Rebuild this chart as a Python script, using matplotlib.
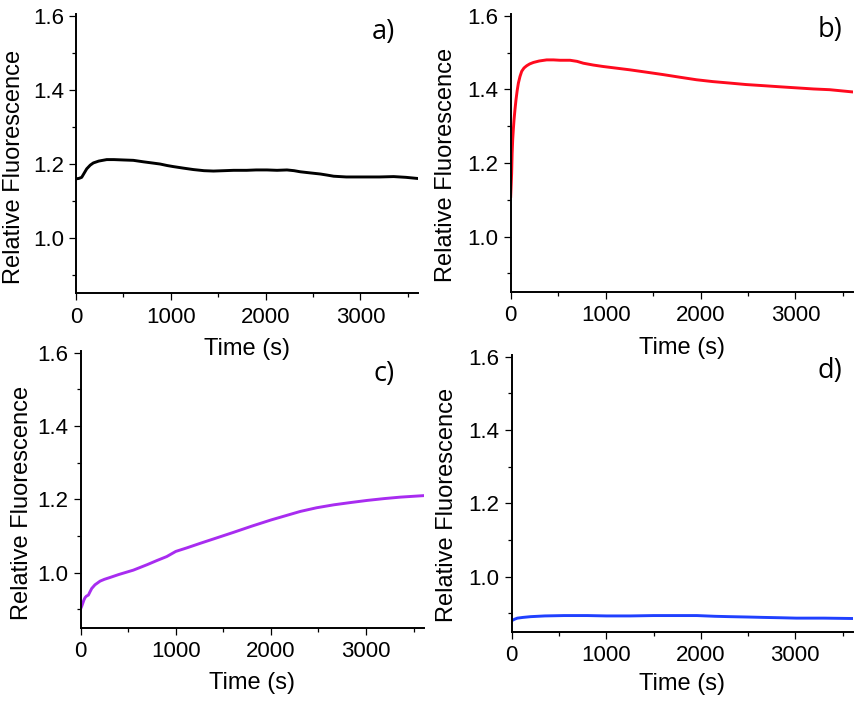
import matplotlib
matplotlib.use("Agg")
import matplotlib.pyplot as plt
from matplotlib.ticker import MultipleLocator

# ---------------- data ----------------
time_a = [0, 30, 60, 90, 113, 150, 183, 240, 324, 400, 500, 605, 711, 800, 887, 960,
          1028, 1130, 1239, 1350, 1450, 1560, 1662, 1800, 1900, 2014, 2120, 2225,
          2300, 2366, 2470, 2577, 2650, 2718, 2850, 2950, 3070, 3200, 3350, 3480, 3600]
fluo_a = [1.159, 1.160, 1.163, 1.176, 1.186, 1.196, 1.202, 1.207, 1.211, 1.211, 1.210,
          1.209, 1.205, 1.202, 1.199, 1.195, 1.192, 1.188, 1.184, 1.181, 1.180, 1.181,
          1.182, 1.182, 1.183, 1.183, 1.182, 1.183, 1.181, 1.178, 1.175, 1.172, 1.169,
          1.166, 1.164, 1.164, 1.164, 1.164, 1.165, 1.163, 1.160]

time_b = [0, 5, 10, 15, 21, 28, 35, 45, 56, 68, 81, 98, 116, 140, 168, 200, 239, 300,
          379, 450, 520, 625, 700, 765, 870, 975, 1100, 1256, 1420, 1607, 1780, 1958,
          2130, 2309, 2480, 2660, 2830, 3011, 3190, 3361, 3480, 3600]
fluo_b = [1.109, 1.140, 1.172, 1.225, 1.263, 1.292, 1.317, 1.345, 1.372, 1.396, 1.417,
          1.435, 1.449, 1.458, 1.464, 1.469, 1.473, 1.477, 1.480, 1.480, 1.479, 1.479,
          1.476, 1.471, 1.466, 1.462, 1.458, 1.453, 1.447, 1.440, 1.433, 1.426, 1.421,
          1.417, 1.413, 1.410, 1.407, 1.404, 1.401, 1.399, 1.396, 1.393]

time_c = [0, 10, 21, 33, 46, 60, 81, 98, 116, 150, 204, 250, 309, 400, 554, 700, 800,
          905, 1000, 1120, 1256, 1420, 1607, 1800, 2004, 2150, 2309, 2480, 2660, 2830,
          3011, 3190, 3361, 3480, 3600]
fluo_c = [0.902, 0.908, 0.916, 0.925, 0.932, 0.936, 0.939, 0.948, 0.957, 0.967, 0.977,
          0.982, 0.987, 0.995, 1.007, 1.022, 1.033, 1.044, 1.058, 1.068, 1.080, 1.094,
          1.110, 1.127, 1.144, 1.155, 1.167, 1.177, 1.185, 1.191, 1.197, 1.202, 1.206,
          1.208, 1.210]

time_d = [0, 30, 60, 120, 200, 350, 555, 800, 1000, 1256, 1500, 1750, 1958, 2150,
          2309, 2500, 2660, 2850, 3011, 3300, 3600]
fluo_d = [0.880, 0.884, 0.887, 0.889, 0.891, 0.893, 0.894, 0.894, 0.893, 0.893, 0.894,
          0.894, 0.894, 0.892, 0.891, 0.890, 0.889, 0.888, 0.887, 0.887, 0.886]

panel_letters = ["a)", "b)", "c)", "d)"]
line_colors = ["#000000", "#ff0a1e", "#a82cf0", "#2040ff"]
x_label = "Time (s)"
y_label = "Relative Fluorescence"

# ---------------- layout ----------------
W, H = 858, 702
plt.rcParams['font.family'] = ['Liberation Sans', 'DejaVu Sans']
fig = plt.figure(figsize=(W / 100, H / 100), dpi=100)

# pixel rectangles: left, right, top, bottom
rects = [(76, 418.3, 14.0, 293.0),
         (510.7, 853.3, 13.9, 291.7),
         (80.7, 424.0, 350.8, 627.7),
         (511.7, 853.0, 354.8, 631.7)]
ylab_px = [(14, 167), (446, 165), (22, 503), (447, 505)]
xlab_off = [56, 56, 55, 52]
letter_px = [(383, 32), (830, 30), (384, 374), (830, 371)]

series = [(time_a, fluo_a), (time_b, fluo_b), (time_c, fluo_c), (time_d, fluo_d)]

for i, (t, f) in enumerate(series):
    L, R, T, B = rects[i]
    ax = fig.add_axes([L / W, 1 - B / H, (R - L) / W, (B - T) / H])
    ax.patch.set_visible(False)
    ax.plot(t, f, color=line_colors[i], lw=2.1, solid_joinstyle='round')
    ax.set_xlim(0, 3610)
    ax.set_ylim(0.85, 1.605)
    ax.xaxis.set_major_locator(MultipleLocator(1000))
    ax.xaxis.set_minor_locator(MultipleLocator(500))
    ax.yaxis.set_major_locator(MultipleLocator(0.2))
    ax.yaxis.set_minor_locator(MultipleLocator(0.1))
    ax.yaxis.set_major_formatter(plt.FuncFormatter(lambda v, p: f"{v:.1f}"))
    for s in ("top", "right"):
        ax.spines[s].set_visible(False)
    for s in ("left", "bottom"):
        ax.spines[s].set_linewidth(1.4)
    ax.tick_params(which='major', direction='out', length=4.8, width=0.9,
                   labelsize=16, pad=4)
    ax.tick_params(which='minor', direction='out', length=3, width=0.9)
    ax.tick_params(axis='x', which='major', pad=5)
    ax.set_xlabel(x_label, fontsize=17, va='center')
    ax.set_ylabel(y_label, fontsize=17, va='center')
    wpx, hpx = R - L, B - T
    ax.xaxis.set_label_coords(0.5, -xlab_off[i] / hpx)
    ax.yaxis.set_label_coords((ylab_px[i][0] - L) / wpx, (B - ylab_px[i][1]) / hpx)
    fig.text(letter_px[i][0] / W, 1 - letter_px[i][1] / H, panel_letters[i],
             fontsize=19.5, family=['Open Sans', 'DejaVu Sans'], ha='center', va='center')

fig.savefig("out.png", dpi=100)
